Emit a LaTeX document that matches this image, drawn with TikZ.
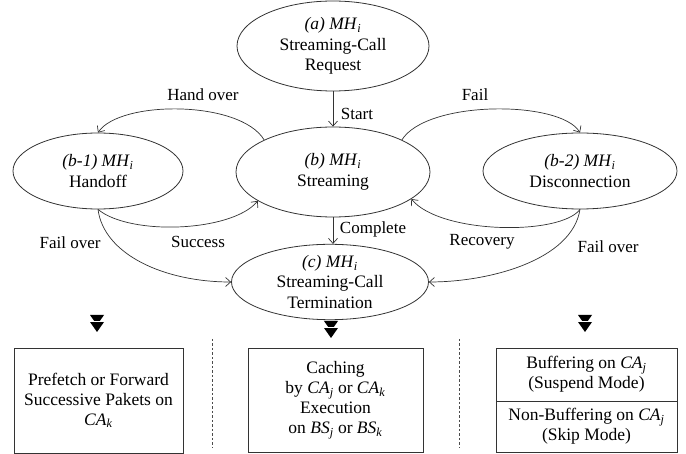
\documentclass[tikz,border=0pt]{standalone}
\usepackage{fontspec}
\setmainfont{Liberation Serif}
\usetikzlibrary{shapes.geometric,arrows.meta}
\newcommand{\sbi}[1]{\textsubscript{\textit{#1}}}
\begin{document}
\begin{tikzpicture}[x=1pt,y=-1pt,
  st/.style={ellipse,draw=black!80,line width=0.8pt,inner sep=0pt,align=center,font=\fontsize{17.5}{20.5}\selectfont},
  bx/.style={rectangle,draw=black!80,line width=0.8pt,inner sep=0pt,align=center,font=\fontsize{17.5}{20}\selectfont},
  lbl/.style={inner sep=0pt,font=\fontsize{17}{20}\selectfont},
  conn/.style={draw=black!80,line width=0.7pt,-{Straight Barb[length=5pt,width=9pt]}},
  sep/.style={draw=black!70,line width=0.7pt,dash pattern=on 2.5pt off 2pt},
  dtri/.pic={\fill (-7,0)--(7,0)--(0,10)--cycle;
             \fill (-7,7)--(7,7)--(0,17)--cycle;
             \draw[white,line width=1pt] (-8,6.5)--(8,6.5);}
]
\useasboundingbox (0,0) rectangle (686,454);
\fill[white] (0,0) rectangle (686,454);

% states
\node[st,minimum width=192pt,minimum height=90pt] (a) at (333,46)
  {\textit{(a) MH}\sbi{i}\\Streaming-Call\\Request};
\node[st,minimum width=194pt,minimum height=90pt] (b) at (333,172)
  {\textit{(b) MH}\sbi{i}\\Streaming};
\node[st,minimum width=170pt,minimum height=76pt] (b1) at (98,171)
  {\textit{(b-1) MH}\sbi{i}\\Handoff};
\node[st,minimum width=194pt,minimum height=76pt] (b2) at (580,171)
  {\textit{(b-2) MH}\sbi{i}\\Disconnection};
\node[st,minimum width=197pt,minimum height=72pt] (c) at (330,282)
  {\textit{(c) MH}\sbi{i}\\Streaming-Call\\Termination};

% transitions
\draw[conn] (a.south) -- (b.north);
\draw[conn] (b.south) -- (b.south |- c.north);
\draw[conn] (b.155) .. controls (240,100) and (120,100) .. (b1.north);
\draw[conn] (b.25) .. controls (427,100) and (560,100) .. (b2.north);
\draw[conn] (b1.south) .. controls (130,236) and (232,232) .. (b.201);
\draw[conn] (b2.south) .. controls (560,236) and (440,234) .. (b.-19);
\draw[conn] (b1.south) .. controls (104,255) and (165,282) .. (c.west);
\draw[conn] (b2.south) .. controls (572,260) and (490,282) .. (c.east);

% labels
\node[lbl] (lstart) at (357,114) {Start};
\node[lbl] (lcomp) at (373,229) {Complete};
\node[lbl] (lhand) at (203,95) {Hand over};
\node[lbl] (lfail) at (475,95) {Fail};
\node[lbl] (lsucc) at (198,242) {Success};
\node[lbl] (lrec) at (482,242) {Recovery};
\node[lbl] (lfol) at (70,243) {Fail over};
\node[lbl] (lfor) at (608,247) {Fail over};

% double arrows
\pic at (97,315) {dtri};
\pic at (331,321) {dtri};
\pic at (585,315) {dtri};

% separators
\draw[sep] (212,339) -- (212,448);
\draw[sep] (459,339) -- (459,448);

% boxes
\node[bx,minimum width=169pt,minimum height=105pt] (k1) at (98.5,400.5)
  {Prefetch or Forward\\Successive Pakets on\\\textit{CA}\sbi{k}};
\node[bx,minimum width=175pt,minimum height=104pt] (k2) at (335.5,400)
  {Caching\\by \textit{CA}\sbi{j} or \textit{CA}\sbi{k}\\Execution\\on \textit{BS}\sbi{j} or \textit{BS}\sbi{k}};
\node[bx,minimum width=181pt,minimum height=53pt] (k3a) at (586.5,374.5)
  {Buffering on \textit{CA}\sbi{j}\\(Suspend Mode)};
\node[bx,minimum width=181pt,minimum height=51pt] (k3b) at (586.5,426.5)
  {Non-Buffering on \textit{CA}\sbi{j}\\(Skip Mode)};
\end{tikzpicture}
\end{document}
